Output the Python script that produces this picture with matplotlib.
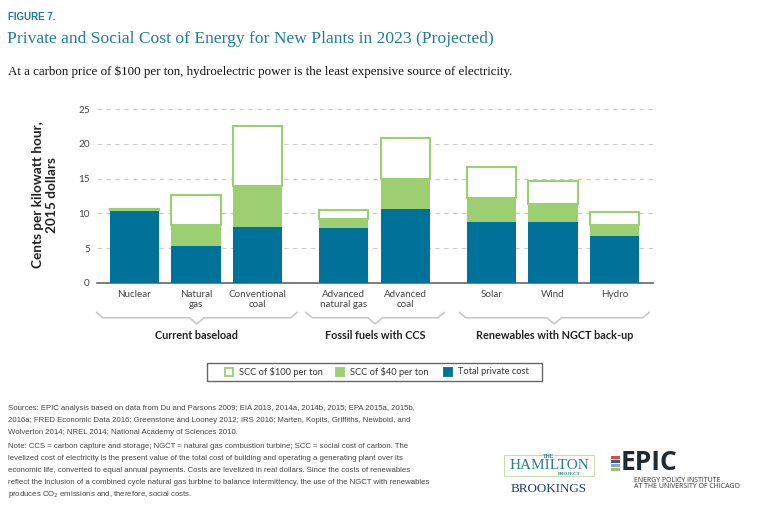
import matplotlib.pyplot as plt
import numpy as np
from matplotlib.patches import Rectangle

# data (cents per kWh, 2015 dollars)
plants = ['Nuclear', 'Natural\ngas', 'Conventional\ncoal', 'Advanced\nnatural gas',
          'Advanced\ncoal', 'Solar', 'Wind', 'Hydro']
private = [10.5, 5.3, 8.0, 7.95, 10.7, 8.8, 8.8, 6.8]
scc40_top = [10.5, 8.4, 13.9, 9.2, 15.0, 12.2, 11.3, 8.4]
scc100_top = [10.6, 12.6, 22.6, 10.45, 20.9, 16.7, 14.7, 10.25]
groups = ['Current baseload', 'Fossil fuels with CCS', 'Renewables with NGCT back-up']

teal = '#00729a'
green = '#9ccf72'
title_col = '#1f7d9b'
grey_txt = '#444444'
sans = 'Lato'

pos = np.array([0, 1, 2, 3.4, 4.4, 5.8, 6.8, 7.8])
private = np.array(private)
scc40 = np.array(scc40_top) - private
scc100 = np.array(scc100_top) - np.array(scc40_top)

fig = plt.figure(figsize=(7.68, 5.15), dpi=100)
ax = fig.add_axes([0.126, 0.4505, 0.724, 0.3375])

w = 0.8
ax.bar(pos, private, w, color=teal, zorder=3)
ax.bar(pos, scc40, w, bottom=private, color=green, zorder=3)
ax.bar(pos, scc100, w, bottom=scc40_top, facecolor='white', edgecolor=green,
       linewidth=1.5, zorder=3)

ax.set_xlim(-0.61, 8.42)
ax.set_ylim(0, 25)
ax.set_yticks([0, 5, 10, 15, 20, 25])
ax.yaxis.grid(True, linestyle=(0, (4, 4)), color='#cccccc', linewidth=0.8, zorder=0)
for s in ['top', 'right', 'left']:
    ax.spines[s].set_visible(False)
ax.spines['bottom'].set_color('#666666')
ax.spines['bottom'].set_linewidth(1.2)
ax.tick_params(axis='y', length=0, labelsize=7.2, labelcolor=grey_txt, pad=5)
ax.set_xticks(pos)
ax.set_xticklabels(plants, fontsize=7.1, color=grey_txt, family=sans, linespacing=1.2)
ax.tick_params(axis='x', length=0, pad=5)
for lab in ax.get_yticklabels():
    lab.set_family(sans)

fig.text(45 / 768, 1 - 195 / 515, 'Cents per kilowatt hour,\n2015 dollars', fontsize=9.8,
         fontweight='bold', family=sans, color='#222222', rotation=90,
         ha='center', va='center', linespacing=1.15, multialignment='center')

# group braces and labels (in data x, axes-fraction y)
tr = ax.get_xaxis_transform()
bracket_x = [(-0.61, 2.64), (2.79, 5.03), (5.28, 8.36)]
y_line = -0.2
y_end = -0.17
y_tip = -0.215
for (x0, x1), g in zip(bracket_x, groups):
    xm = (x0 + x1) / 2
    ax.plot([x0, x0 + 0.1, xm - 0.12, xm, xm + 0.12, x1 - 0.1, x1],
            [y_end, y_line, y_line, y_tip - 0.02, y_line, y_line, y_end],
            transform=tr, color='#c8c8c8', lw=1.2, clip_on=False)
    ax.text(xm, -0.3, g, transform=tr, ha='center', va='center', fontsize=7.8,
            fontweight='bold', family=sans, color='#222222')

# legend box
fig.patches.append(Rectangle((207 / 768, 1 - 381 / 515), 335 / 768, 18 / 515,
                             transform=fig.transFigure, facecolor='white',
                             edgecolor='#666666', lw=1))
leg_items = [('SCC of $100 per ton', 'white', green), ('SCC of $40 per ton', green, green),
             ('Total private cost', teal, teal)]
for (lbl, fc, ec), xs in zip(leg_items, [225, 336, 444]):
    fig.patches.append(Rectangle((xs / 768, 1 - 376 / 515), 8 / 768, 8 / 515,
                                 transform=fig.transFigure, facecolor=fc, edgecolor=ec, lw=1.3))
    fig.text((xs + 14) / 768, 1 - 372 / 515, lbl, fontsize=6.7, family=sans,
             color='#333333', va='center')

# titles
fig.text(8 / 768, 1 - 17 / 515, 'FIGURE 7.', fontsize=7, fontweight='bold',
         family='Liberation Sans', color=title_col, va='center')
fig.text(7 / 768, 1 - 39 / 515,
         'Private and Social Cost of Energy for New Plants in 2023 (Projected)',
         fontsize=12.6, family='Liberation Serif', color=title_col, va='center')
fig.text(8 / 768, 1 - 72 / 515,
         'At a carbon price of $100 per ton, hydroelectric power is the least expensive source of electricity.',
         fontsize=9.4, family='Liberation Serif', color='#111111', va='center')

notes = [
    'Sources: EPIC analysis based on data from Du and Parsons 2009; EIA 2013, 2014a, 2014b, 2015; EPA 2015a, 2015b,',
    '2016a; FRED Economic Data 2016; Greenstone and Looney 2012; IRS 2016; Marten, Kopits, Griffiths, Newbold, and',
    'Wolverton 2014; NREL 2014; National Academy of Sciences 2010.',
    'Note: CCS = carbon capture and storage; NGCT = natural gas combustion turbine; SCC = social cost of carbon. The',
    'levelized cost of electricity is the present value of the total cost of building and operating a generating plant over its',
    'economic life, converted to equal annual payments. Costs are levelized in real dollars. Since the costs of renewables',
    'reflect the inclusion of a combined cycle natural gas turbine to balance intermittency, the use of the NGCT with renewables',
    'produces CO$_2$ emissions and, therefore, social costs.',
]
note_y = [409, 421, 433, 446, 458, 470, 482, 494]
for line, yy in zip(notes, note_y):
    fig.text(8 / 768, 1 - yy / 515, line, fontsize=5.6, family='Liberation Sans',
             color='#444444', va='center')

# logos as text
fig.patches.append(Rectangle((504 / 768, 1 - 476 / 515), 90 / 768, 21 / 515,
                             transform=fig.transFigure, facecolor='none',
                             edgecolor='#c9dcb0', lw=0.8))
fig.text(549 / 768, 1 - 456 / 515, 'THE', fontsize=4, family='Liberation Serif',
         color='#2a7f84', ha='center', va='center', fontweight='bold')
fig.text(549 / 768, 1 - 465.5 / 515, 'HAMILTON', fontsize=11, family='Liberation Serif',
         color='#2a7f84', ha='center', va='center')
fig.text(569 / 768, 1 - 474 / 515, 'PROJECT', fontsize=3.5, family='Liberation Serif',
         color='#2a7f84', ha='center', va='center', fontweight='bold')
fig.text(549 / 768, 1 - 489 / 515, 'BROOKINGS', fontsize=9.4, family='Liberation Serif',
         color='#1d3f72', ha='center', va='center')

for i, c in enumerate(['#e0473f', '#2f5f8a', '#8aa7b5', '#9fbf6a']):
    yy = 456 + i * 4
    fig.patches.append(Rectangle((611 / 768, 1 - (yy + 2.5) / 515), 9 / 768, 2.5 / 515,
                                 transform=fig.transFigure, facecolor=c, edgecolor='none'))
fig.text(621 / 768, 1 - 463 / 515, 'EPIC', fontsize=19, fontweight='bold',
         family='Open Sans', color='#1f2a33', va='center')
fig.text(634 / 768, 1 - 480 / 515, 'ENERGY POLICY INSTITUTE', fontsize=5,
         family='Open Sans', color='#333333', va='center')
fig.text(634 / 768, 1 - 487 / 515, 'AT THE UNIVERSITY OF CHICAGO', fontsize=5,
         family='Open Sans', color='#333333', va='center')

fig.savefig('out.png', dpi=100)
